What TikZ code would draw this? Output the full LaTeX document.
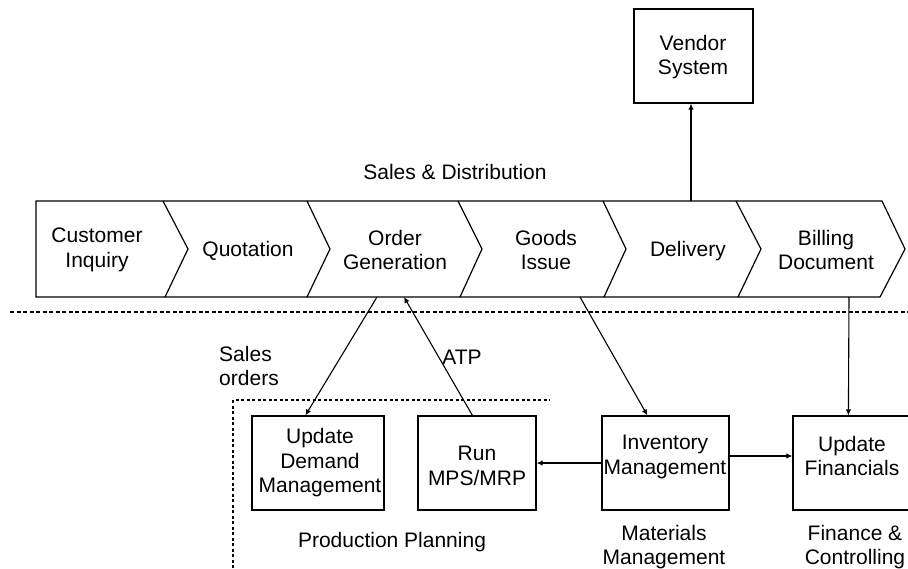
\documentclass[tikz,border=0pt]{standalone}
\usepackage{fontspec}
\setmainfont{Liberation Sans}
\usetikzlibrary{arrows.meta}
\begin{document}
\begin{tikzpicture}[x=1pt,y=-1pt,
  every node/.style={font=\fontsize{21}{24.5}\selectfont, align=center, inner sep=0pt},
  strip/.style={line width=1.2pt, line join=miter},
  box/.style={draw, line width=1.2pt, minimum height=94pt},
  conn/.style={line width=1.1pt, -{Latex[length=6pt,width=5.5pt]}},
  sep/.style={line width=1.2pt, dash pattern=on 4pt off 2.5pt},
  region/.style={line width=1.2pt, dash pattern=on 3pt off 2.5pt}]
\useasboundingbox (0,0) rectangle (908,568);
\fill[white] (0,0) rectangle (908,568);
\clip (0,0) rectangle (908,568);

% value chain strip
\draw[strip] (36,201) -- (882,201) -- (905,249) -- (880,297) -- (36,297) -- cycle;
\draw[strip] (163,201) -- (188,249) -- (165,297);
\draw[strip] (307,201) -- (330,249) -- (307,297);
\draw[strip] (458,201) -- (482,249) -- (460,297);
\draw[strip] (603,201) -- (626,249) -- (604,297);
\draw[strip] (736,201) -- (761,249) -- (738,297);

\node (ci) at (97,250) {Customer\\Inquiry};
\node (qu) at (248,251) {Quotation};
\node (og) at (395,250) {Order\\Generation};
\node (gi) at (546,250) {Goods\\Issue};
\node (dl) at (688,251) {Delivery};
\node (bd) at (826,250) {Billing\\Document};

\node (sd) at (455,172) {Sales \& Distribution};

% connection points on the strip
\coordinate (og-s1) at (377,297);
\coordinate (og-s2) at (404,297);
\coordinate (gi-s) at (580,297);
\coordinate (bd-s) at (849,297);
\coordinate (dl-n) at (691,201);

% vendor system
\node[box, minimum width=119pt] (vendor) at (693.5,56) {};
\node (vendor-t) at (693,57) {Vendor\\System};
\draw[conn] (dl-n) -- (dl-n |- vendor.south);

% separator
\draw[sep] (10,312) -- (908,312);

% production planning region
\draw[region] (233,568) -- (233,400) -- (550,400);

% lower boxes
\node[box, minimum width=132pt] (dem) at (318,463) {};
\node (dem-t) at (320,463) {Update\\Demand\\Management};
\node[box, minimum width=118pt] (mrp) at (477,463) {};
\node (mrp-t) at (477,466) {Run\\MPS/MRP};
\node[box, minimum width=127pt] (inv) at (665.5,463) {};
\node (inv-t) at (665,457) {Inventory\\Management};
\node[box, minimum width=130pt] (fin) at (858,463) {};
\node (fin-t) at (852,456) {Update\\Financials};

% labels
\node (so) at (249,366) [align=left] {Sales\\orders};
\node (atp) at (462,357) {ATP};
\node (pp) at (392,542) {Production Planning};
\node (mm) at (664,547) {Materials\\Management};
\node (fc) at (855,547) {Finance \&\\Controlling};

% connectors
\draw[conn] (og-s1) -- ([xshift=54pt]dem.north west);
\draw[conn] ([xshift=55pt]mrp.north west) -- (og-s2);
\draw[conn] (gi-s) -- ([xshift=46pt]inv.north west);
\draw[conn] (bd-s) -- ([xshift=56pt]fin.north west);
\draw[conn] ([yshift=7pt]inv.east) -- ([yshift=7pt]fin.west);
\draw[conn] (inv.west) -- (mrp.east);
\end{tikzpicture}
\end{document}
